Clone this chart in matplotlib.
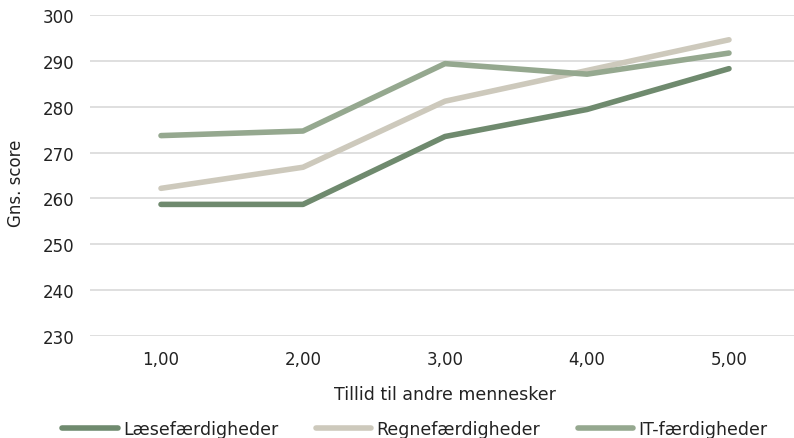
import matplotlib
matplotlib.use("Agg")
import matplotlib.pyplot as plt

plt.rcParams["font.family"] = ["DejaVu Sans"]

# data
categories = ["1,00", "2,00", "3,00", "4,00", "5,00"]
laese = [258.7, 258.7, 273.5, 279.4, 288.3]
regne = [262.2, 266.8, 281.2, 287.9, 294.6]
it_skills = [273.7, 274.7, 289.4, 287.1, 291.7]
series_names = ["Læsefærdigheder", "Regnefærdigheder", "IT-færdigheder"]
colors = ["#6f8a6e", "#cdc9bc", "#95a88f"]
yticks = [230, 240, 250, 260, 270, 280, 290, 300]

INK = "#222222"

fig = plt.figure(figsize=(7.94, 4.39), dpi=100)
# plot area: x 90..800 px, y 16..337 px (right edge runs slightly past the canvas)
ax = fig.add_axes((90 / 794, 1 - 337 / 439, 710 / 794, 321 / 439))

x = list(range(len(categories)))
for vals, name, c in zip([laese, regne, it_skills], series_names, colors):
    ax.plot(x, vals, color=c, lw=4.0, solid_capstyle="round", label=name)

ax.set_xlim(-0.5, len(categories) - 0.5)
ax.set_ylim(230, 300)
ax.set_yticks(yticks)
ax.set_xticks(x, categories)
ax.grid(axis="y", color="#d9d9d9", lw=1.2)
ax.set_axisbelow(True)
for s in ax.spines.values():
    s.set_visible(False)
ax.tick_params(length=0, labelsize=12, colors=INK)
ax.tick_params(axis="x", pad=10)
ax.tick_params(axis="y", pad=11.5)
ax.set_ylabel("Gns. score", fontsize=12, color=INK)
ax.yaxis.set_label_coords(-0.0915, 0.48)
ax.set_xlabel("Tillid til andre mennesker", fontsize=12.5, color=INK, labelpad=12)

leg = fig.legend(loc="lower center", bbox_to_anchor=(0.5225, -0.035), ncol=3,
                 frameon=False, fontsize=12.5, handlelength=3.2, handletextpad=0.3,
                 columnspacing=2.15)
for t in leg.get_texts():
    t.set_color(INK)

fig.savefig("out.png", dpi=100)
